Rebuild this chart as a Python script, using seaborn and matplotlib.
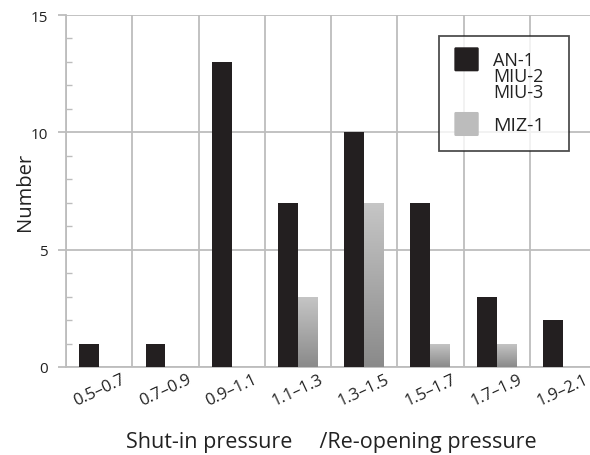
import numpy as np
import pandas as pd
import matplotlib
matplotlib.use("Agg")
import matplotlib.pyplot as plt
import seaborn as sns
from matplotlib.ticker import MultipleLocator, FixedLocator
from matplotlib.legend_handler import HandlerPatch
from matplotlib.patches import FancyBboxPatch

categories = ["0.5–0.7", "0.7–0.9", "0.9–1.1", "1.1–1.3", "1.3–1.5", "1.5–1.7", "1.7–1.9", "1.9–2.1"]
an_miu = [1, 1, 13, 7, 10, 7, 3, 2]
miz = [0, 0, 0, 3, 7, 1, 1, 0]
series_names = ["AN-1\nMIU-2\nMIU-3", "MIZ-1"]

df = pd.DataFrame({
    "range": categories * 2,
    "count": an_miu + miz,
    "group": [series_names[0]] * len(categories) + [series_names[1]] * len(categories),
})

sns.set_style("white")
plt.rcParams["font.family"] = ["Open Sans", "Noto Sans CJK JP", "DejaVu Sans"]

fig = plt.figure(figsize=(5.9, 4.56), dpi=100)
ax = fig.add_axes([66 / 590, 1 - 368 / 456, 530 / 590, 352 / 456])

black = "#231f20"
gray = "#bcbcbc"
sns.barplot(data=df, x="range", y="count", hue="group", order=categories,
            hue_order=series_names, palette=[black, gray], width=0.6,
            dodge=True, ax=ax, legend=True, saturation=1, edgecolor="none", linewidth=0, zorder=3)

# gradient fill for gray bars
grad = np.linspace(0, 1, 256).reshape(-1, 1)
cmap = matplotlib.colors.LinearSegmentedColormap.from_list("g", ["#8a8a8a", "#c6c6c6"])
for patch in ax.containers[1]:
    x0, y0 = patch.get_x(), patch.get_y()
    w, h = patch.get_width(), patch.get_height()
    if h <= 0:
        continue
    im = ax.imshow(grad, cmap=cmap, aspect="auto", origin="lower",
                   extent=[x0, x0 + w, y0, y0 + h], zorder=3.5)
    im.set_clip_path(patch)

ax.set_xlim(-0.5, len(categories) - 0.5)
ax.set_ylim(0, 15)
ax.yaxis.set_major_locator(FixedLocator([0, 5, 10, 15]))
ax.yaxis.set_minor_locator(MultipleLocator(1))
ax.xaxis.set_minor_locator(FixedLocator(np.arange(-0.5, len(categories), 1.0)))

gc = "#bdbdbd"
ax.grid(True, axis="y", which="major", color=gc, linewidth=1.3, zorder=0)
ax.grid(True, axis="x", which="minor", color=gc, linewidth=1.3, zorder=0)
ax.grid(False, axis="x", which="major")
ax.set_axisbelow(True)

for s in ["top", "right"]:
    ax.spines[s].set_visible(False)
for s in ["left", "bottom"]:
    ax.spines[s].set_color(gc)
    ax.spines[s].set_linewidth(1.3)

ax.tick_params(axis="y", which="major", direction="out", length=6, width=1.3, color=gc,
               labelsize=11, labelcolor="#222222", pad=7, left=True)
ax.tick_params(axis="y", which="minor", direction="in", length=4, width=1, color=gc, left=True)
ax.tick_params(axis="x", which="both", length=0, labelsize=12, labelcolor="#222222", pad=3,
               labelrotation=25)
plt.setp(ax.get_xticklabels(), ha="center")

ax.set_xlabel("Shut-in pressure\u3000 /Re-opening pressure", fontsize=15.5, color="#222222", labelpad=16)
ax.set_ylabel("Number", fontsize=14.5, color="#222222", labelpad=-3)

handles, labels = ax.get_legend_handles_labels()
ax.get_legend().remove()

def make_func(shift):
    def f(legend, orig_handle, xdescent, ydescent, width, height, fontsize):
        return FancyBboxPatch((-xdescent + 1, -ydescent + shift + 1), width - 2, height - 2,
                              boxstyle="round,pad=1")
    return f

hmap = {handles[0]: HandlerPatch(patch_func=make_func(13)),
        handles[1]: HandlerPatch(patch_func=make_func(0))}

x_leg0 = (439 - 66) / 530
w_leg = 130 / 530
y_leg_top = 1 - (37 - 16) / 352
leg = ax.legend(handles, labels, handler_map=hmap, loc="upper left",
                bbox_to_anchor=(x_leg0, y_leg_top - 0.5, w_leg, 0.5), mode="expand",
                frameon=True, fancybox=False, fontsize=13, handlelength=1.35, handleheight=1.67,
                labelspacing=0.6, borderpad=0.85, handletextpad=0.8, borderaxespad=0)
leg.get_frame().set_edgecolor("#222222")
leg.get_frame().set_linewidth(1.3)
texts = leg.get_texts()
for t in texts:
    t.set_linespacing(0.85)
    t.set_color("#222222")
texts[1].set_fontsize(14)
leg.set_zorder(5)

fig.savefig("out.png", dpi=100)
